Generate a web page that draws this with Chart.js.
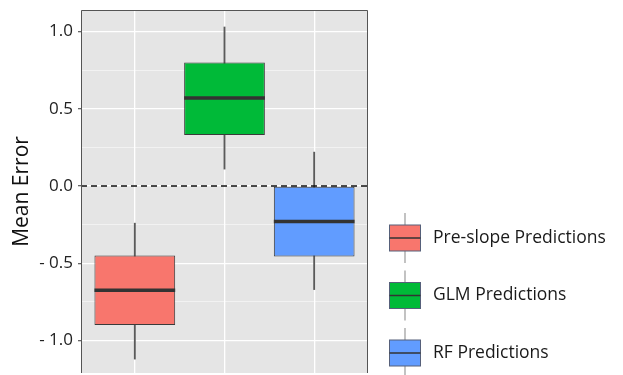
<!DOCTYPE html>
<html>
<head>
<meta charset="utf-8">
<script src="https://cdn.jsdelivr.net/npm/chart.js@4/dist/chart.umd.min.js"></script>
<style>
  body { margin: 0; background: #fff; }
</style>
</head>
<body>
<canvas id="chart" width="623" height="375"></canvas>
<script>
// data
var categories = ['Pre-slope Predictions', 'GLM Predictions', 'RF Predictions'];
var lowWhisker = [-1.12, 0.11, -0.67];
var q1 = [-0.90, 0.33, -0.455];
var median = [-0.675, 0.57, -0.23];
var q3 = [-0.45, 0.80, -0.005];
var highWhisker = [-0.24, 1.03, 0.22];
var colors = ['#F8766D', '#00BA38', '#619CFF'];

var fontFamily = '"Open Sans", "Noto Sans", sans-serif';

var boxData = categories.map(function(c, i) { return { x: i, y: [q1[i], q3[i]] }; });
var whiskerData = categories.map(function(c, i) { return { x: i, y: [lowWhisker[i], highWhisker[i]] }; });

function isMajor(v) { return Math.abs(v * 2 - Math.round(v * 2)) < 1e-6; }

var boxPlugin = {
  id: 'boxExtras',
  beforeDraw: function(chart) {
    var a = chart.chartArea, ctx = chart.ctx;
    ctx.save();
    ctx.fillStyle = '#E5E5E5';
    ctx.fillRect(a.left, a.top, a.right - a.left, a.bottom - a.top);
    ctx.restore();
  },
  afterDatasetsDraw: function(chart) {
    var ctx = chart.ctx, ys = chart.scales.y, a = chart.chartArea;
    var meta = chart.getDatasetMeta(0);
    ctx.save();
    // medians
    ctx.strokeStyle = '#333';
    ctx.lineWidth = 3.5;
    meta.data.forEach(function(bar, i) {
      var half = bar.width / 2;
      var y = ys.getPixelForValue(median[i]);
      ctx.beginPath();
      ctx.moveTo(bar.x - half, y);
      ctx.lineTo(bar.x + half, y);
      ctx.stroke();
    });
    // dashed zero line
    var y0 = ys.getPixelForValue(0);
    ctx.strokeStyle = '#111';
    ctx.lineWidth = 1.5;
    ctx.setLineDash([6, 4]);
    ctx.beginPath();
    ctx.moveTo(a.left, y0);
    ctx.lineTo(a.right, y0);
    ctx.stroke();
    ctx.restore();
  },
  afterDraw: function(chart) {
    var ctx = chart.ctx, a = chart.chartArea;
    ctx.save();
    ctx.strokeStyle = '#555';
    ctx.lineWidth = 1;
    ctx.beginPath();
    ctx.moveTo(a.left + 0.5, a.bottom);
    ctx.lineTo(a.left + 0.5, a.top + 0.5);
    ctx.lineTo(a.right - 0.5, a.top + 0.5);
    ctx.lineTo(a.right - 0.5, a.bottom);
    ctx.stroke();

    // legend with boxplot keys
    var keyX = 405, startY = 238, gap = 57.5;
    ctx.font = '17.5px ' + fontFamily;
    ctx.textBaseline = 'middle';
    categories.forEach(function(c, i) {
      var cy = startY + i * gap;
      ctx.strokeStyle = '#9a9a9a';
      ctx.lineWidth = 1.2;
      ctx.beginPath();
      ctx.moveTo(keyX, cy - 25);
      ctx.lineTo(keyX, cy + 25);
      ctx.stroke();
      ctx.fillStyle = colors[i];
      ctx.fillRect(keyX - 15.5, cy - 13, 31, 26);
      ctx.strokeStyle = '#56607a';
      ctx.lineWidth = 1;
      ctx.strokeRect(keyX - 15.5, cy - 13, 31, 26);
      ctx.strokeStyle = '#333';
      ctx.lineWidth = 1.5;
      ctx.beginPath();
      ctx.moveTo(keyX - 15.5, cy);
      ctx.lineTo(keyX + 15.5, cy);
      ctx.stroke();
      ctx.fillStyle = '#1a1a1a';
      ctx.fillText(c, 433, cy);
    });
    ctx.restore();
  }
};

var chart = new Chart(document.getElementById('chart'), {
  type: 'bar',
  data: {
    datasets: [
      {
        data: boxData,
        backgroundColor: colors,
        borderColor: '#3a3a3a',
        borderWidth: 1,
        borderSkipped: false,
        barPercentage: 0.9,
        categoryPercentage: 1,
        grouped: false,
        order: 1
      },
      {
        data: whiskerData,
        backgroundColor: '#5a5a5a',
        barThickness: 1.2,
        grouped: false,
        order: 2
      }
    ]
  },
  options: {
    responsive: false,
    animation: false,
    layout: { padding: { left: 0, right: 255, top: 10, bottom: 2 } },
    plugins: {
      legend: { display: false },
      tooltip: { enabled: false }
    },
    scales: {
      x: {
        type: 'linear',
        min: -0.6,
        max: 2.6,
        offset: false,
        afterBuildTicks: function(scale) {
          scale.ticks = [0, 1, 2].map(function(v) { return { value: v }; });
        },
        afterFit: function(scale) {
          scale.height = 0;
          scale.paddingLeft = 0; scale.paddingRight = 0;
        },
        ticks: { display: false },
        grid: { color: '#fff', lineWidth: 1.3, drawTicks: false, offset: false },
        border: { display: false }
      },
      y: {
        min: -1.21,
        max: 1.14,
        afterBuildTicks: function(scale) {
          var t = [];
          for (var k = -4; k <= 4; k++) t.push({ value: k * 0.25 });
          scale.ticks = t;
        },
        afterFit: function(scale) {
          scale.width = 81;
          scale.paddingTop = 0; scale.paddingBottom = 0;
        },
        ticks: {
          padding: 5,
          color: '#222',
          font: { family: fontFamily, size: 17 },
          callback: function(v) {
            if (!isMajor(v)) return '';
            if (v < -1e-6) return '- ' + Math.abs(v).toFixed(1);
            return Math.abs(v).toFixed(1);
          }
        },
        grid: {
          drawTicks: true,
          tickLength: 3,
          tickColor: function(c) { return isMajor(c.tick.value) ? '#666' : 'rgba(0,0,0,0)'; },
          color: function(c) { return isMajor(c.tick.value) ? '#fff' : 'rgba(255,255,255,0.7)'; },
          lineWidth: function(c) { return isMajor(c.tick.value) ? 1.3 : 0.7; }
        },
        border: { display: false },
        title: {
          display: true,
          text: 'Mean Error',
          color: '#111',
          font: { family: fontFamily, size: 21 },
          padding: { top: 9, bottom: 0 }
        }
      }
    }
  },
  plugins: [boxPlugin]
});
</script>
</body>
</html>
